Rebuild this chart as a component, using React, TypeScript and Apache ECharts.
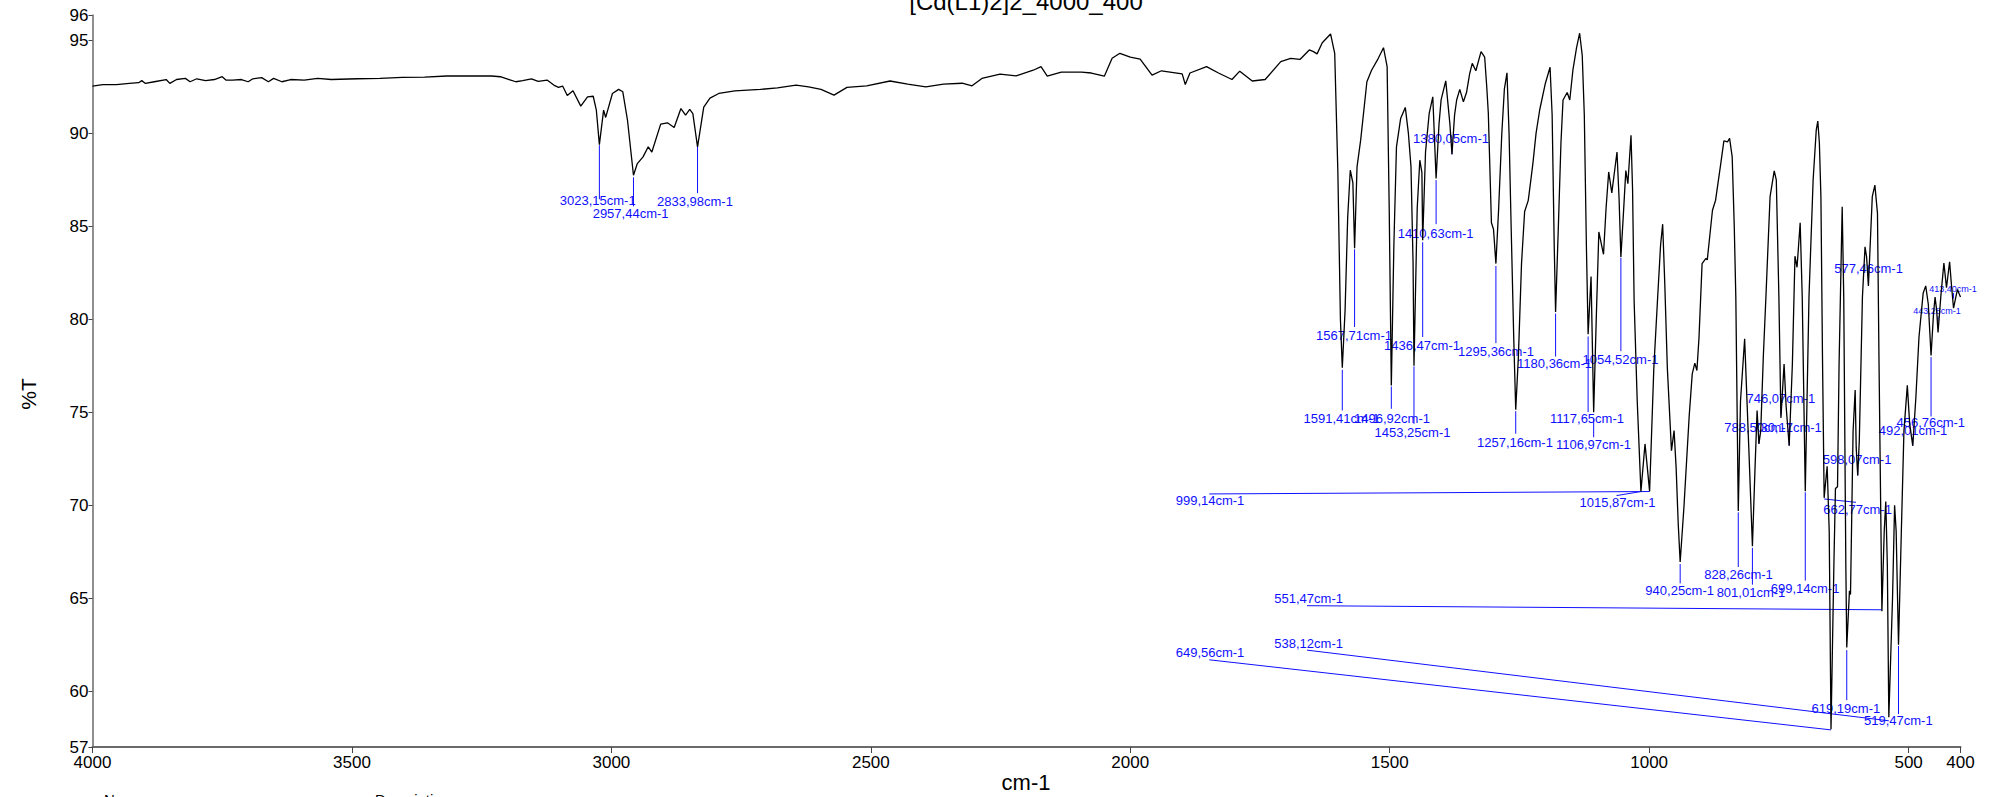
import React, { useEffect, useRef } from "react";
import * as echarts from "echarts";

// ---------- spectrum data (wavenumber cm-1, %T) ----------
const highWn = [
  4000, 3980, 3954, 3929, 3911, 3905, 3898, 3881, 3858, 3851, 3838, 3821, 3812, 3799, 3782, 3765, 3750, 3743,
  3730, 3713, 3700, 3691, 3674, 3661, 3651, 3635, 3618, 3592, 3566, 3540, 3489, 3446, 3403, 3360, 3317, 3266,
  3231, 3214, 3197, 3184, 3171, 3154, 3141, 3124, 3111, 3102, 3094, 3085, 3074, 3059, 3046, 3035, 3029, 3023.15,
  3015, 3011, 2998, 2986, 2978, 2969, 2957.44, 2950, 2939, 2929, 2922, 2905, 2892, 2879, 2866, 2857, 2849, 2843,
  2833.98, 2822, 2810, 2793, 2762, 2713, 2680, 2644, 2620, 2596, 2571, 2546, 2508, 2463, 2429, 2394, 2360, 2324,
  2305, 2286, 2251, 2220, 2187, 2172, 2160, 2133, 2094, 2075, 2050, 2035, 2020, 2000, 1981, 1958, 1940, 1900,
  1894, 1885, 1853, 1830, 1804, 1789, 1765, 1740, 1710, 1691,
];
const highT = [
  92.55, 92.62, 92.62, 92.69, 92.73, 92.84, 92.69, 92.78, 92.9, 92.69, 92.9, 92.96, 92.78, 92.94, 92.84, 92.9, 93.05, 92.87,
  92.87, 92.9, 92.78, 92.94, 93.0, 92.78, 92.96, 92.78, 92.9, 92.87, 92.96, 92.9, 92.94, 92.96, 93.01, 93.03, 93.09, 93.1,
  93.09, 93.05, 92.9, 92.78, 92.84, 92.94, 92.8, 92.87, 92.6, 92.48, 92.55, 92.04, 92.3, 91.47, 91.97, 92.0, 91.25, 89.4,
  91.25, 90.86, 92.15, 92.37, 92.24, 90.72, 87.75, 88.38, 88.74, 89.28, 89.0, 90.5, 90.57, 90.32, 91.34, 90.98, 91.29, 91.07,
  89.28, 91.42, 91.9, 92.15, 92.29, 92.37, 92.45, 92.6, 92.5, 92.37, 92.06, 92.48, 92.56, 92.82, 92.65, 92.5, 92.65, 92.7,
  92.56, 92.96, 93.19, 93.1, 93.4, 93.59, 93.08, 93.3, 93.3, 93.25, 93.08, 94.04, 94.31, 94.1, 94.0, 93.14, 93.37, 93.2,
  92.63, 93.25, 93.59, 93.25, 92.9, 93.35, 92.82, 92.9, 93.86, 94.04,
];
const lowWn = [
  1673, 1655, 1647, 1640, 1630, 1614, 1606, 1600, 1595, 1591.41, 1586, 1581, 1576, 1571, 1567.71, 1563, 1556, 1544,
  1535, 1522, 1512, 1505, 1501, 1496.92, 1492, 1487, 1479, 1470, 1464, 1459, 1455, 1453.25, 1447, 1442, 1438, 1436.47,
  1431, 1424, 1417, 1410.63, 1405, 1401, 1392, 1384, 1380.05, 1375, 1371, 1365, 1358, 1352, 1346, 1341, 1334, 1324,
  1317, 1313, 1310, 1304, 1300, 1295.36, 1290, 1284, 1279, 1274, 1270, 1266, 1261, 1257.16, 1252, 1246, 1240, 1233,
  1228, 1224, 1218, 1211, 1200, 1191, 1187, 1183, 1180.36, 1175, 1170, 1166, 1158, 1153, 1147, 1140, 1134, 1129,
  1125, 1121, 1117.65, 1112, 1106.97, 1102, 1097, 1088, 1083, 1078, 1072, 1062, 1058, 1054.52, 1050, 1045, 1041, 1035,
  1032, 1029, 1023, 1015.87, 1008, 999.14, 991, 984, 978, 974, 970, 965, 957, 952, 948, 944, 940.25, 933,
  923, 917, 912, 908, 904, 898, 891, 888, 878, 872, 862, 856, 849, 845, 840, 836, 833, 828.26,
  824, 816, 812, 808, 801.01, 796, 792, 788.5, 785, 780, 775, 767, 759, 755, 750, 746.07, 740, 736,
  730.17, 724, 719, 715, 709, 705, 699.14, 692, 684, 678, 675, 672, 669, 666, 662.77, 657, 653, 649.56,
  644, 641, 637, 634, 628, 625, 621, 619.19, 614, 612, 607, 603, 601, 598.07, 595, 589, 584, 581,
  577.46, 570, 565, 560, 557, 551.47, 547, 544, 541, 538.12, 531, 527, 524, 519.47, 514, 509, 502.5, 498,
  492.01, 486, 480, 472, 467, 462, 456.76, 452, 449, 446, 443.28, 438, 432, 427, 421, 417, 413.4, 406, 400,
];
const lowT = [
  93.98, 94.49, 94.4, 94.28, 94.88, 95.35, 94.3, 88, 80, 77.4, 80.5, 85.5, 88.02, 87.34, 83.82, 88.2, 89.64, 92.78,
  93.4, 94.04, 94.61, 93.6, 86, 76.45, 84, 89.28, 90.8, 91.4, 90, 88.2, 83, 77.5, 86, 88.56, 87.9, 84.25,
  89, 91.06, 91.97, 87.58, 90.5, 91.8, 92.83, 90.5, 88.88, 91.0, 91.8, 92.37, 91.7, 92.2, 93.2, 93.77, 93.37, 94.4,
  94.1, 92.5, 91.1, 85.2, 84.85, 83.0, 86, 90, 92.4, 93.26, 90, 85, 79, 75.14, 78, 83, 85.8, 86.4,
  87.5, 88.4, 90, 91.26, 92.7, 93.56, 91, 84, 80.4, 85, 89.5, 91.8, 92.2, 91.8, 93.4, 94.6, 95.39, 94.2,
  91, 84, 79.2, 82.3, 75.0, 80, 84.7, 83.5, 86, 87.93, 86.8, 89.0, 86.5, 83.35, 85.5, 88.0, 87.3, 89.9,
  87, 81, 75.6, 70.75, 73.3, 70.75, 77.4, 81.0, 84, 85.12, 82, 77.4, 72.94, 74.02, 72.0, 69, 66.95, 69.9,
  74.74, 77.07, 77.65, 77.25, 79.0, 83.0, 83.27, 83.2, 85.87, 86.41, 88.38, 89.6, 89.55, 89.73, 88.74, 85, 81.2, 69.7,
  75.6, 78.96, 76, 73.1, 67.8, 72, 75.1, 73.3, 74.0, 78, 81.2, 86.6, 87.99, 87.5, 81.2, 74.7, 77.6, 75.3,
  73.2, 77.6, 83.4, 82.8, 85.2, 81.2, 70.75, 81.2, 87.5, 90.18, 90.66, 89.5, 86.6, 78, 70.4, 72.1, 68.6, 57.96,
  66.8, 70.9, 71.0, 77.6, 86.05, 81.2, 66.8, 62.35, 65.4, 65.2, 74.0, 76.2, 73.1, 71.6, 73.5, 81.2, 83.9, 83.36,
  81.8, 86.6, 87.22, 85.7, 77.6, 64.3, 68.6, 70.2, 66.8, 58.6, 65.0, 70.0, 68.6, 62.5, 68.6, 74.0, 76.45, 74.4,
  73.2, 75.8, 79.05, 81.4, 81.8, 80.8, 78.06, 80.3, 81.2, 80.5, 79.3, 81.2, 83.03, 81.7, 83.1, 81.7, 80.6, 81.6, 81.2,
];

// ---------- peak annotations ----------
const peakText = [
  "3023,15cm-1", "2957,44cm-1", "2833,98cm-1", "1380,05cm-1", "1410,63cm-1", "577,46cm-1", "413,40cm-1",
  "443,28cm-1", "1567,71cm-1", "1591,41cm-1", "1496,92cm-1", "1453,25cm-1", "1436,47cm-1", "1295,36cm-1",
  "1257,16cm-1", "1180,36cm-1", "1054,52cm-1", "1117,65cm-1", "1106,97cm-1", "1015,87cm-1", "999,14cm-1",
  "940,25cm-1", "828,26cm-1", "801,01cm-1", "699,14cm-1", "788,50cm-1", "730,17cm-1", "746,07cm-1",
  "598,07cm-1", "662,77cm-1", "492,01cm-1", "456,76cm-1", "551,47cm-1", "538,12cm-1", "649,56cm-1",
  "619,19cm-1", "519,47cm-1",
];
// [line start wn, line start %T, line end wn, line end %T, label wn, label %T]
const peakGeom = [
  [3023.15, 89.37, 3023.15, 86.46, 3026.4, 86.41],
  [2957.44, 87.64, 2957.44, 86.08, 2963, 85.71],
  [2833.98, 89.27, 2833.98, 86.79, 2838.9, 86.35],
  [1380.05, 88.87, 1380.05, 89.48, 1381.9, 89.75],
  [1410.63, 87.49, 1410.63, 85.12, 1411.6, 84.63],
  [577.46, 81.88, 577.46, 82.42, 577.1, 82.75],
  [413.4, 81.12, 413.4, 81.42, 414.5, 81.64],
  [443.28, 79.91, 443.28, 80.16, 445.4, 80.43],
  [1567.71, 83.77, 1567.71, 79.59, 1568.8, 79.14],
  [1591.41, 77.29, 1591.41, 75.1, 1592.9, 74.68],
  [1496.92, 76.39, 1496.92, 75.19, 1495.6, 74.68],
  [1453.25, 77.47, 1453.25, 74.38, 1456.1, 73.92],
  [1436.47, 84.15, 1436.47, 79.05, 1437.8, 78.6],
  [1295.36, 82.87, 1295.36, 78.72, 1295.1, 78.28],
  [1257.16, 75.06, 1257.16, 73.85, 1258.6, 73.39],
  [1180.36, 80.31, 1180.36, 78.0, 1182.4, 77.63],
  [1054.52, 83.32, 1054.52, 78.29, 1055.2, 77.84],
  [1117.65, 79.08, 1117.65, 75.01, 1119.8, 74.66],
  [1106.97, 74.65, 1106.97, 73.66, 1107.3, 73.27],
  [1015.87, 70.74, 1062.9, 70.52, 1061, 70.15],
  [999.14, 70.74, 1847.7, 70.61, 1846.3, 70.24],
  [940.25, 66.84, 940.25, 65.8, 941.2, 65.41],
  [828.26, 69.62, 828.26, 66.68, 827.8, 66.29],
  [801.01, 67.71, 801.01, 65.73, 803.8, 65.32],
  [699.14, 70.7, 699.14, 65.95, 699.6, 65.51],
  [788.5, 73.31, 788.5, 73.75, 789.2, 74.2],
  [730.17, 73.21, 730.17, 73.93, 733.4, 74.2],
  [746.07, 74.83, 746.07, 75.37, 746.3, 75.75],
  [598.07, 71.6, 598.07, 72.14, 599.4, 72.48],
  [662.77, 70.34, 601.4, 70.16, 598.4, 69.77],
  [492.01, 73.21, 492.01, 73.65, 491.5, 74.02],
  [456.76, 77.97, 456.76, 74.78, 457.3, 74.45],
  [551.47, 64.38, 1659.4, 64.6, 1656.3, 64.98],
  [538.12, 58.41, 1659.4, 62.21, 1656.3, 62.55],
  [649.56, 57.92, 1847.7, 61.69, 1846.3, 62.07],
  [619.19, 62.21, 619.19, 59.52, 620.9, 59.07],
  [519.47, 62.44, 519.47, 58.77, 519.8, 58.42],
];
const smallLabels = ["413,40cm-1", "443,28cm-1"];

// ---------- axes ----------
const xTicks = [4000, 3500, 3000, 2500, 2000, 1500, 1000, 500, 400];
const yTicks = [57, 60, 65, 70, 75, 80, 85, 90, 95, 96.37];
const yMin = 57;
const yMax = 96.37;
const xMin = 400;
const xMax = 4000;

const titleText = "[Cd(L1)2]2_4000_400";
const xName = "cm-1";
const yName = "%T";

const FONT = "'Liberation Sans', Arial, Helvetica, sans-serif";
const BLUE = "#1010ff";

export default function App() {
  const ref = useRef<HTMLDivElement | null>(null);

  useEffect(() => {
    if (!ref.current) return;
    const chart = echarts.init(ref.current, undefined, { renderer: "svg" });
    const wn = highWn.concat(lowWn);
    const tr = highT.concat(lowT);
    const spectrum = wn.map((w, i) => [w, tr[i]]);

    const option: any = {
      animation: false,
      backgroundColor: "#ffffff",
      grid: { left: 92.5, right: 41.5, top: 15, bottom: 50, containLabel: false },
      xAxis: {
        type: "value",
        min: xMin,
        max: xMax,
        inverse: true,
        splitLine: { show: false },
        axisLine: { show: true, onZero: false, lineStyle: { color: "#6a6a6a", width: 2 } },
        axisTick: { show: true, customValues: xTicks, length: 6, lineStyle: { color: "#444", width: 1 } },
        axisLabel: {
          customValues: xTicks,
          color: "#000",
          fontSize: 17,
          fontFamily: FONT,
          margin: 7,
          formatter: (v: number) => String(Math.round(v)),
        },
      },
      yAxis: {
        type: "value",
        min: yMin,
        max: yMax,
        splitLine: { show: false },
        axisLine: { show: true, onZero: false, lineStyle: { color: "#6a6a6a", width: 1.5 } },
        axisTick: { show: true, customValues: yTicks, length: 4, lineStyle: { color: "#444", width: 1 } },
        axisLabel: {
          customValues: yTicks,
          color: "#000",
          fontSize: 17,
          fontFamily: FONT,
          margin: 4,
          formatter: (v: number) => String(Math.round(v)),
        },
      },
      graphic: [
        {
          type: "text",
          x: 1026,
          y: 1,
          style: { text: titleText, fill: "#000", fontSize: 24, fontFamily: FONT, align: "center", verticalAlign: "middle" },
        },
        {
          type: "text",
          x: 1026,
          y: 782,
          style: { text: xName, fill: "#000", fontSize: 22, fontFamily: FONT, align: "center", verticalAlign: "middle" },
        },
        {
          type: "text",
          x: 28,
          y: 394,
          rotation: Math.PI / 2,
          style: { text: yName, fill: "#000", fontSize: 21, fontFamily: FONT, align: "center", verticalAlign: "middle" },
        },
        {
          type: "text",
          x: 104,
          y: 792,
          style: { text: "Name", fill: "#000", fontSize: 15, fontFamily: FONT, align: "left", verticalAlign: "top" },
        },
        {
          type: "text",
          x: 375,
          y: 792,
          style: { text: "Description", fill: "#000", fontSize: 15, fontFamily: FONT, align: "left", verticalAlign: "top" },
        },
      ],
      series: [
        {
          type: "custom",
          name: "peaks",
          silent: true,
          clip: false,
          z: 3,
          encode: { x: [0, 2, 4], y: [1, 3, 5] },
          data: peakGeom,
          renderItem: (params: any, api: any) => {
            const i = params.dataIndex;
            const p1 = api.coord([api.value(0), api.value(1)]);
            const p2 = api.coord([api.value(2), api.value(3)]);
            const pt = api.coord([api.value(4), api.value(5)]);
            const txt = peakText[i];
            const small = smallLabels.indexOf(txt) >= 0;
            return {
              type: "group",
              children: [
                {
                  type: "line",
                  shape: { x1: p1[0], y1: p1[1], x2: p2[0], y2: p2[1] },
                  style: { stroke: BLUE, lineWidth: 1 },
                },
                {
                  type: "text",
                  x: pt[0],
                  y: pt[1],
                  style: {
                    text: txt,
                    fill: BLUE,
                    fontSize: small ? 9 : 13,
                    fontFamily: FONT,
                    align: "center",
                    verticalAlign: "middle",
                  },
                },
              ],
            };
          },
        },
        {
          type: "line",
          name: "%T",
          data: spectrum,
          showSymbol: false,
          symbol: "none",
          z: 4,
          lineStyle: { color: "#000", width: 1.3 },
        },
      ],
    };
    chart.setOption(option);
    return () => chart.dispose();
  }, []);

  return (
    <div
      ref={ref}
      style={{ position: "fixed", left: 0, top: 0, width: 2002, height: 797, background: "#fff" }}
    />
  );
}
